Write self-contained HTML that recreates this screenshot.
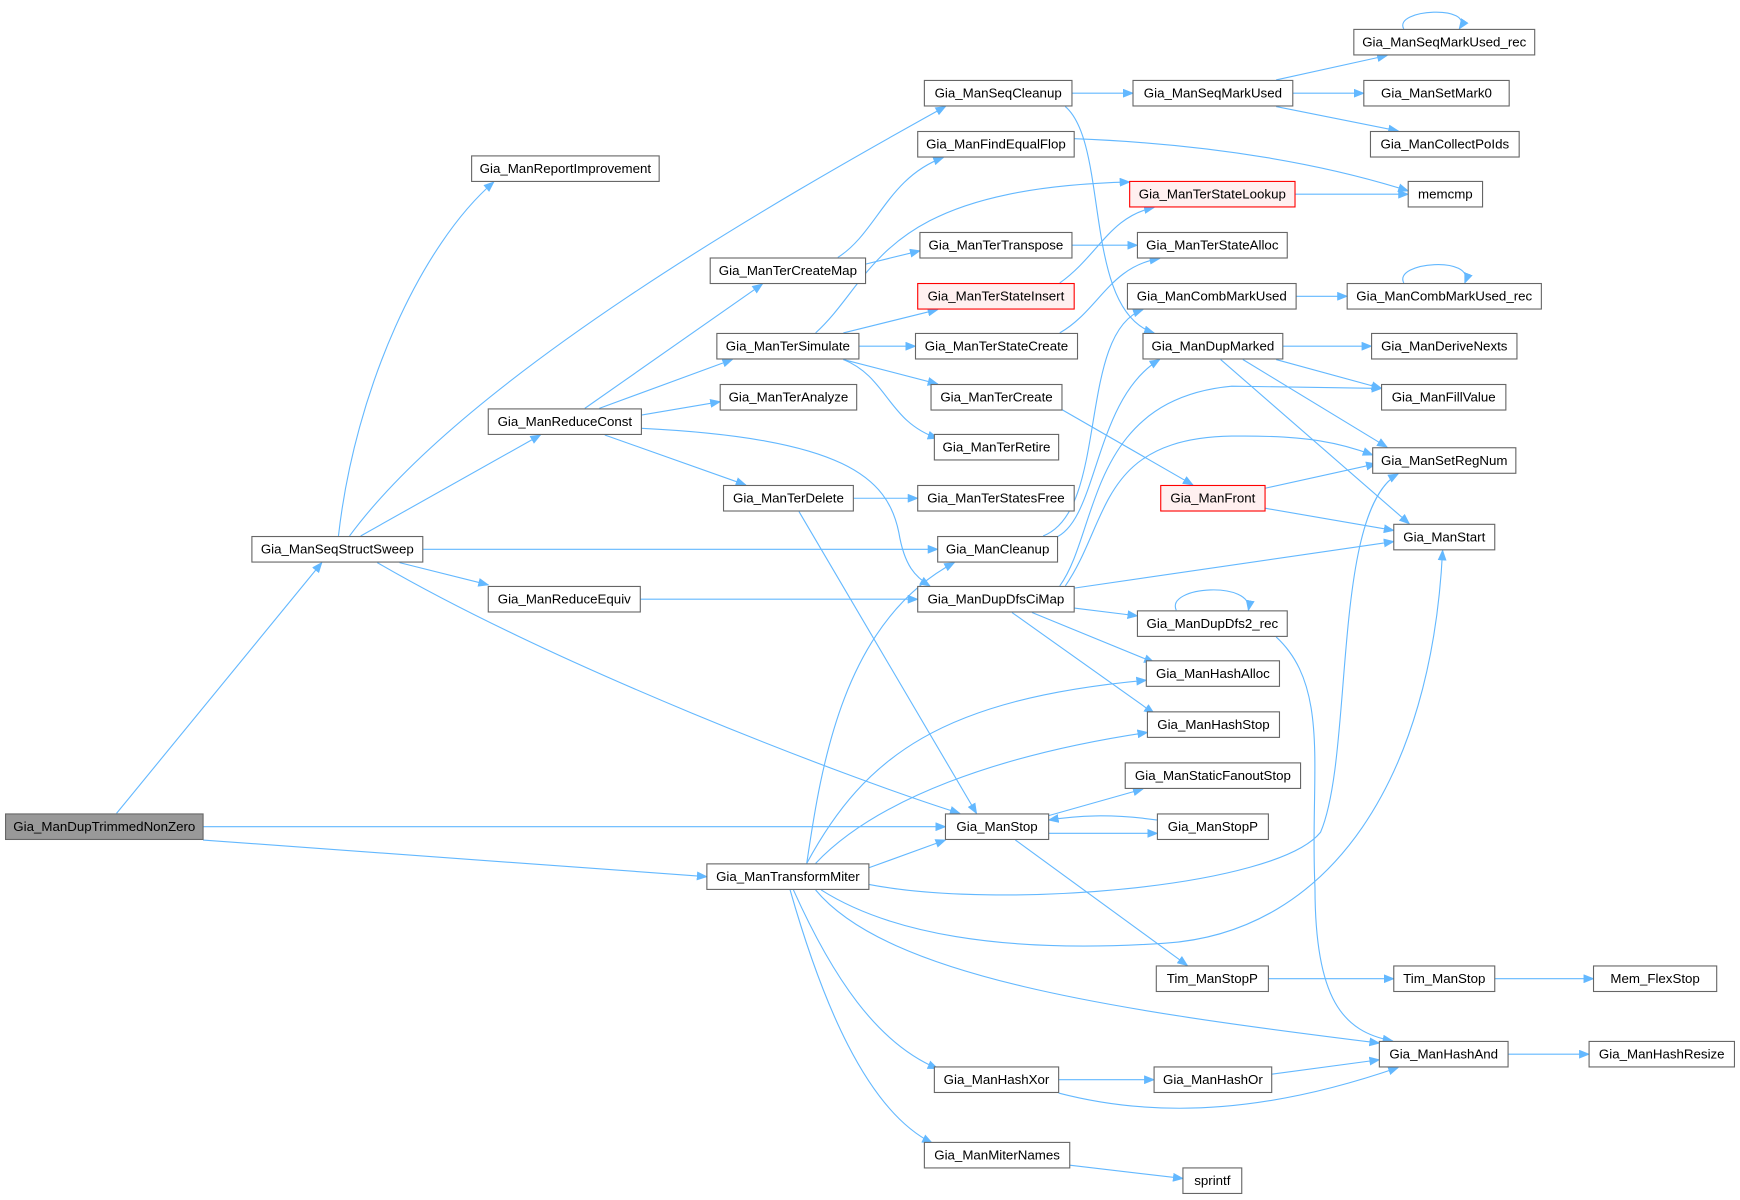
<!DOCTYPE html>
<html><head><meta charset="utf-8"><style>html,body{margin:0;padding:0;background:#fff}svg{display:block}</style></head><body>
<svg width="1740" height="1200" viewBox="0 0 1568 1081.4" preserveAspectRatio="none" xmlns="http://www.w3.org/2000/svg">
<defs><marker id="a" markerWidth="10" markerHeight="8" refX="9" refY="4" orient="auto" markerUnits="userSpaceOnUse"><path d="M0,0 L10,4 L0,8 z" fill="#63b8ff"/></marker></defs>
<g fill="none" stroke="#63b8ff" stroke-width="1" marker-end="url(#a)">
<path d="M105,733 L290,507"/>
<path d="M183,745 L852,745"/>
<path d="M183,757 L637,790"/>
<path d="M305,483 C320,350 380,220 445,164"/>
<path d="M315,483 C420,340 700,180 852,96"/>
<path d="M325,483 L487,392"/>
<path d="M381,495 L845,495"/>
<path d="M360,507 L440,527"/>
<path d="M340,507 C500,600 760,700 865,733"/>
<path d="M527,368 L687,256"/>
<path d="M540,368 L660,324"/>
<path d="M578,374 L649,362"/>
<path d="M545,392 L672,437"/>
<path d="M578,386 C760,395 800,430 810,480 C815,510 825,520 838,528"/>
<path d="M577,540 L827,540"/>
<path d="M755,232 C790,210 800,160 850,142"/>
<path d="M780,238 L829,226"/>
<path d="M735,300 C790,250 790,170 1018,164"/>
<path d="M760,300 L845,279"/>
<path d="M774,312 L825,312"/>
<path d="M760,324 L845,346"/>
<path d="M760,324 C800,340 800,380 845,395"/>
<path d="M769,449 L827,449"/>
<path d="M720,461 L880,733"/>
<path d="M966,221 L1025,221"/>
<path d="M955,255 C990,230 1000,195 1040,187"/>
<path d="M955,300 C990,280 1000,240 1045,233"/>
<path d="M955,368 L1075,437"/>
<path d="M966,84 L1021,84"/>
<path d="M960,96 C1000,130 975,280 1040,300"/>
<path d="M968,125 C1100,130 1200,150 1269,172"/>
<path d="M1167,175 L1269,175"/>
<path d="M1150,72 L1250,50"/>
<path d="M1165,84 L1229,84"/>
<path d="M1150,96 L1260,118"/>
<path d="M1265,26 C1255,8 1330,4 1315,26"/>
<path d="M1168,267 L1214,267"/>
<path d="M1265,255 C1255,236 1330,230 1320,255"/>
<path d="M940,483 C1000,460 970,300 1030,279"/>
<path d="M950,485 C990,470 985,360 1045,324"/>
<path d="M1156,312 L1236,312"/>
<path d="M1150,324 L1245,350"/>
<path d="M1120,324 L1250,403"/>
<path d="M1100,324 L1270,472"/>
<path d="M1140,440 L1240,418"/>
<path d="M1140,458 L1256,478"/>
<path d="M955,528 C990,480 980,360 1110,348 L1245,350"/>
<path d="M960,528 C1000,470 990,395 1110,393 C1180,392 1210,400 1237,410"/>
<path d="M968,530 L1256,488"/>
<path d="M968,548 L1025,555"/>
<path d="M930,552 L1040,597"/>
<path d="M912,552 L1040,643"/>
<path d="M1060,550 C1050,528 1130,523 1125,550"/>
<path d="M1150,574 C1200,620 1180,700 1185,800 C1185,900 1210,930 1255,938"/>
<path d="M945,735 L1030,711"/>
<path d="M945,751 L1043,751"/>
<path d="M1043,739 C1000,733 970,735 945,739"/>
<path d="M915,757 L1070,870"/>
<path d="M1143,882 L1256,882"/>
<path d="M1347,882 L1436,882"/>
<path d="M1359,950 L1432,950"/>
<path d="M954,973 L1040,973"/>
<path d="M954,985 C1050,1010 1150,1000 1260,962"/>
<path d="M1146,968 L1243,955"/>
<path d="M964,1050 L1066,1062"/>
<path d="M727,778 C740,690 760,560 860,507"/>
<path d="M727,778 C780,680 850,630 1033,613"/>
<path d="M735,778 C790,720 900,680 1034,660"/>
<path d="M783,782 L852,757"/>
<path d="M783,797 C900,820 1150,800 1190,750 C1220,680 1200,460 1260,427"/>
<path d="M740,802 C800,840 900,860 1050,850 C1200,840 1290,700 1300,496"/>
<path d="M735,802 C800,880 1000,910 1243,940"/>
<path d="M715,802 C750,880 790,940 845,963"/>
<path d="M712,802 C740,900 780,1000 840,1030"/>
</g>
<g font-family="Liberation Sans, Arial, sans-serif" font-size="12" text-anchor="middle" fill="#000">
<g stroke="#666" stroke-width="1" fill="#fff">
<rect x="5" y="733.5" width="178" height="23" fill="#999"/>
<rect x="227" y="483.5" width="154" height="23"/>
<rect x="425" y="140.5" width="169" height="23"/>
<rect x="440" y="368.5" width="138" height="23"/>
<rect x="440" y="528.5" width="137" height="23"/>
<rect x="637" y="778.5" width="146" height="23"/>
<rect x="833" y="72.5" width="133" height="23"/>
<rect x="827" y="118.5" width="141" height="23"/>
<rect x="640" y="232.5" width="140" height="23"/>
<rect x="646" y="300.5" width="128" height="23"/>
<rect x="649" y="346.5" width="123" height="23"/>
<rect x="652" y="437.5" width="117" height="23"/>
<rect x="829" y="209.5" width="137" height="23"/>
<rect x="827" y="255.5" width="141" height="23" stroke="#f00" fill="#fff0f0"/>
<rect x="825" y="300.5" width="146" height="23"/>
<rect x="839" y="346.5" width="118" height="23"/>
<rect x="842" y="391.5" width="112" height="23"/>
<rect x="827" y="437.5" width="141" height="23"/>
<rect x="845" y="483.5" width="108" height="23"/>
<rect x="827" y="528.5" width="141" height="23"/>
<rect x="852" y="733.5" width="93" height="23"/>
<rect x="842" y="961.5" width="112" height="23"/>
<rect x="833" y="1029.5" width="131" height="23"/>
<rect x="1021" y="72.5" width="144" height="23"/>
<rect x="1018" y="163.5" width="149" height="23" stroke="#f00" fill="#fff0f0"/>
<rect x="1025" y="209.5" width="135" height="23"/>
<rect x="1016" y="255.5" width="152" height="23"/>
<rect x="1030" y="300.5" width="126" height="23"/>
<rect x="1046" y="437.5" width="94" height="23" stroke="#f00" fill="#fff0f0"/>
<rect x="1025" y="550.5" width="135" height="23"/>
<rect x="1033" y="595.5" width="120" height="23"/>
<rect x="1034" y="641.5" width="119" height="23"/>
<rect x="1014" y="687.5" width="158" height="23"/>
<rect x="1043" y="733.5" width="100" height="23"/>
<rect x="1042" y="870.5" width="101" height="23"/>
<rect x="1040" y="961.5" width="106" height="23"/>
<rect x="1066" y="1052.5" width="53" height="23"/>
<rect x="1220" y="26.5" width="163" height="23"/>
<rect x="1229" y="72.5" width="131" height="23"/>
<rect x="1235" y="118.5" width="134" height="23"/>
<rect x="1269" y="163.5" width="67" height="23"/>
<rect x="1214" y="255.5" width="175" height="23"/>
<rect x="1236" y="300.5" width="131" height="23"/>
<rect x="1245" y="346.5" width="112" height="23"/>
<rect x="1237" y="403.5" width="129" height="23"/>
<rect x="1256" y="472.5" width="91" height="23"/>
<rect x="1256" y="870.5" width="91" height="23"/>
<rect x="1243" y="938.5" width="116" height="23"/>
<rect x="1436" y="870.5" width="111" height="23"/>
<rect x="1432" y="938.5" width="131" height="23"/>
</g>
<text x="94" y="749">Gia_ManDupTrimmedNonZero</text>
<text x="304" y="499">Gia_ManSeqStructSweep</text>
<text x="509.5" y="156">Gia_ManReportImprovement</text>
<text x="509" y="384">Gia_ManReduceConst</text>
<text x="508.5" y="544">Gia_ManReduceEquiv</text>
<text x="710" y="794">Gia_ManTransformMiter</text>
<text x="899.5" y="88">Gia_ManSeqCleanup</text>
<text x="897.5" y="134">Gia_ManFindEqualFlop</text>
<text x="710" y="248">Gia_ManTerCreateMap</text>
<text x="710" y="316">Gia_ManTerSimulate</text>
<text x="710.5" y="362">Gia_ManTerAnalyze</text>
<text x="710.5" y="453">Gia_ManTerDelete</text>
<text x="897.5" y="225">Gia_ManTerTranspose</text>
<text x="897.5" y="271">Gia_ManTerStateInsert</text>
<text x="898" y="316">Gia_ManTerStateCreate</text>
<text x="898" y="362">Gia_ManTerCreate</text>
<text x="898" y="407">Gia_ManTerRetire</text>
<text x="897.5" y="453">Gia_ManTerStatesFree</text>
<text x="899" y="499">Gia_ManCleanup</text>
<text x="897.5" y="544">Gia_ManDupDfsCiMap</text>
<text x="898.5" y="749">Gia_ManStop</text>
<text x="898" y="977">Gia_ManHashXor</text>
<text x="898.5" y="1045">Gia_ManMiterNames</text>
<text x="1093" y="88">Gia_ManSeqMarkUsed</text>
<text x="1092.5" y="179">Gia_ManTerStateLookup</text>
<text x="1092.5" y="225">Gia_ManTerStateAlloc</text>
<text x="1092" y="271">Gia_ManCombMarkUsed</text>
<text x="1093" y="316">Gia_ManDupMarked</text>
<text x="1093" y="453">Gia_ManFront</text>
<text x="1092.5" y="566">Gia_ManDupDfs2_rec</text>
<text x="1093" y="611">Gia_ManHashAlloc</text>
<text x="1093.5" y="657">Gia_ManHashStop</text>
<text x="1093" y="703">Gia_ManStaticFanoutStop</text>
<text x="1093" y="749">Gia_ManStopP</text>
<text x="1092.5" y="886">Tim_ManStopP</text>
<text x="1093" y="977">Gia_ManHashOr</text>
<text x="1092.5" y="1068">sprintf</text>
<text x="1301.5" y="42">Gia_ManSeqMarkUsed_rec</text>
<text x="1294.5" y="88">Gia_ManSetMark0</text>
<text x="1302" y="134">Gia_ManCollectPoIds</text>
<text x="1302.5" y="179">memcmp</text>
<text x="1301.5" y="271">Gia_ManCombMarkUsed_rec</text>
<text x="1301.5" y="316">Gia_ManDeriveNexts</text>
<text x="1301" y="362">Gia_ManFillValue</text>
<text x="1301.5" y="419">Gia_ManSetRegNum</text>
<text x="1301.5" y="488">Gia_ManStart</text>
<text x="1301.5" y="886">Tim_ManStop</text>
<text x="1301" y="954">Gia_ManHashAnd</text>
<text x="1491.5" y="886">Mem_FlexStop</text>
<text x="1497.5" y="954">Gia_ManHashResize</text>
</g>
</svg>
</body></html>
